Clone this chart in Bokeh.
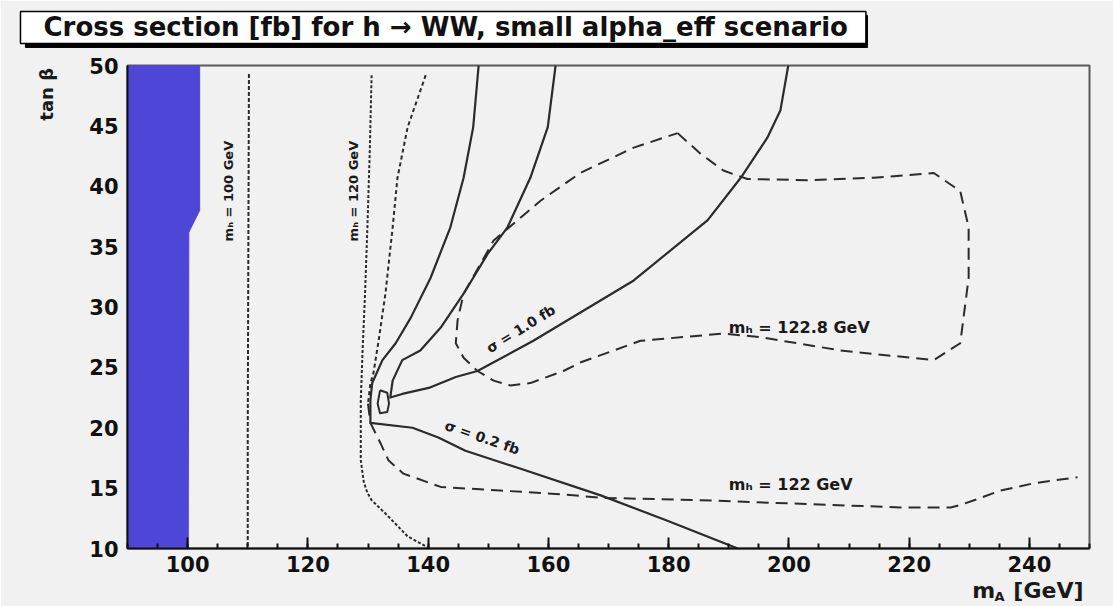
import math
from bokeh.plotting import figure
from bokeh.models import Label, SingleIntervalTicker, Range1d
from bokeh.embed import file_html
from bokeh.resources import INLINE

# ---------------- data (m_A [GeV], tan beta) ----------------
title_text = "Cross section [fb] for h \u2192 WW, small alpha_eff scenario"
x_range = (90, 250)
y_range = (10, 50)

# excluded (blue) region
excl_mA = [90.0, 90.0, 102.0, 102.0, 100.2, 100.1]
excl_tb = [10.0, 50.0, 50.0, 38.0, 36.2, 10.0]

# m_h = 100 GeV contour
mA_mh100 = [110.2, 110.1, 110.0, 110.0]
tb_mh100 = [49.3, 35.0, 20.0, 10.0]

# m_h = 120 GeV contour
mA_mh120 = [130.6, 130.3, 129.9, 129.5, 129.1, 128.8, 128.8, 129.3, 129.9, 130.6, 133.1, 136.6, 140.3]
tb_mh120 = [49.2, 43.0, 36.6, 31.0, 26.4, 22.3, 17.3, 15.5, 14.6, 14.0, 12.8, 11.0, 10.0]

# m_h = 122 GeV contour (upper and lower branch)
mA_mh122_up = [139.6, 136.6, 134.9, 134.1, 132.9, 131.7, 130.9, 130.4, 130.0]
tb_mh122_up = [49.2, 44.9, 40.7, 36.6, 31.1, 27.0, 24.5, 23.7, 22.0]
mA_mh122_low = [130.0, 130.4, 132.1, 133.4, 135.9, 142.1, 152.0, 162.0, 168.7, 185.3, 201.9,
                218.6, 226.9, 228.5, 231.4, 235.2, 240.7, 248.0]
tb_mh122_low = [22.0, 20.4, 18.7, 17.3, 16.2, 15.1, 14.8, 14.5, 14.2, 14.0, 13.7,
                13.4, 13.4, 13.6, 14.1, 14.8, 15.4, 15.9]

# m_h = 122.8 GeV contour (closed)
mA_mh1228 = [181.5, 185.3, 189.1, 193.1, 203.1, 214.1, 224.1, 228.5, 229.9, 229.9, 228.5, 224.1,
             208.6, 195.3, 189.1, 175.3, 165.3, 162.5, 157.0, 153.7, 150.9, 148.2, 145.9, 144.6,
             144.9, 145.9, 150.9, 158.7, 165.3, 174.2, 181.5]
tb_mh1228 = [44.4, 42.7, 41.3, 40.6, 40.5, 40.7, 41.1, 39.6, 36.6, 32.4, 27.0, 25.6,
             26.4, 27.5, 27.8, 27.2, 25.4, 24.7, 23.7, 23.5, 23.9, 24.7, 25.8, 27.0,
             28.9, 31.1, 35.5, 38.8, 41.1, 43.2, 44.4]

# sigma = 0.2 fb contour
mA_s02 = [148.4, 147.5, 145.9, 143.7, 140.4, 137.1, 134.6, 132.4, 130.7, 130.4, 130.4,
          137.4, 141.7, 146.2, 155.4, 168.7, 179.8, 191.5]
tb_s02 = [50.0, 44.9, 40.7, 36.6, 32.4, 29.1, 27.0, 25.6, 23.7, 22.3, 20.4,
          20.0, 19.2, 18.1, 16.6, 14.4, 12.3, 10.0]

# sigma = 1.0 fb contour
mA_s10 = [161.2, 159.9, 157.0, 153.2, 149.9, 145.9, 142.1, 138.7, 135.7, 134.1, 133.7,
          135.7, 140.1, 144.6, 148.2, 157.5, 174.2, 186.5, 192.0, 196.4, 198.6, 199.9]
tb_s10 = [50.0, 44.9, 40.7, 36.6, 34.4, 31.1, 28.3, 26.4, 25.6, 23.9, 22.5,
          22.8, 23.3, 24.2, 24.7, 27.2, 32.2, 37.2, 40.7, 44.0, 46.3, 50.0]

# small closed contour near the knot
mA_loop = [132.0, 133.2, 133.5, 133.2, 132.0, 131.6, 132.0]
tb_loop = [23.1, 22.9, 22.0, 21.3, 21.2, 22.0, 23.1]

LINE = "#2b2b2b"
BG = "#f1f1f1"
FONT = "DejaVu Sans"

p = figure(width=1113, height=606, x_range=Range1d(*x_range), y_range=Range1d(*y_range),
           output_backend="svg", toolbar_location=None,
           min_border_left=127, min_border_right=24, min_border_top=65, min_border_bottom=58)
p.title.visible = False
p.background_fill_color = BG
p.border_fill_color = BG
p.outline_line_color = "#5a5a5a"
p.outline_line_width = 2
p.xgrid.visible = False
p.ygrid.visible = False

# axes
p.xaxis.ticker = SingleIntervalTicker(interval=20, num_minor_ticks=4)
p.yaxis.ticker = SingleIntervalTicker(interval=5, num_minor_ticks=0)
for ax in (p.xaxis, p.yaxis):
    ax.major_label_text_font = FONT
    ax.major_label_text_font_style = "bold"
    ax.major_label_text_font_size = "21px"
    ax.major_label_text_color = "#111111"
    ax.axis_line_color = "#111111"
    ax.axis_line_width = 2
    ax.major_tick_out = 0
    ax.minor_tick_out = 0
    ax.major_tick_line_color = "#111111"
    ax.minor_tick_line_color = "#111111"
    ax.major_tick_line_width = 2
    ax.minor_tick_line_width = 2
p.xaxis.major_tick_in = 11
p.xaxis.minor_tick_in = 5
p.xaxis.major_label_standoff = 7
p.yaxis.major_tick_in = 0
p.yaxis.minor_tick_in = 0
p.yaxis.major_label_standoff = 9

# excluded region
p.patch(excl_mA, excl_tb, fill_color="#4e46d6", line_color="#4e46d6", line_width=1)

# contours
p.line(mA_mh100, tb_mh100, line_color=LINE, line_width=2, line_dash="4 2")
p.line(mA_mh120, tb_mh120, line_color=LINE, line_width=2, line_dash="3 2", line_join="round")
p.line(mA_mh122_up, tb_mh122_up, line_color=LINE, line_width=2, line_dash="4 3", line_join="round")
p.line(mA_mh122_low, tb_mh122_low, line_color=LINE, line_width=2, line_dash="12 7", line_join="round")
p.line(mA_mh1228, tb_mh1228, line_color=LINE, line_width=2, line_dash="12 7", line_join="round")
p.line(mA_s02, tb_s02, line_color=LINE, line_width=2.2, line_join="round")
p.line(mA_s10, tb_s10, line_color=LINE, line_width=2.2, line_join="round")
p.line(mA_loop, tb_loop, line_color=LINE, line_width=2, line_join="round")


def mk(x, y, text, size, angle=0.0, align="center", baseline="middle", style="bold", color="#1a1a1a", **kw):
    return Label(x=x, y=y, text=text, angle=angle, text_align=align, text_baseline=baseline,
                 text_font=FONT, text_font_size=size, text_font_style=style, text_color=color, **kw)


# contour labels (inside the frame)
p.add_layout(mk(106.8, 39.6, "m\u2095 = 100 GeV", "13px", angle=math.pi / 2))
p.add_layout(mk(127.6, 39.6, "m\u2095 = 120 GeV", "13px", angle=math.pi / 2))
p.add_layout(mk(155.4, 28.2, "\u03c3 = 1.0 fb", "14px", angle=0.555))
p.add_layout(mk(149.0, 19.2, "\u03c3 = 0.2 fb", "14px", angle=-0.33))
p.add_layout(mk(190.0, 28.3, "m\u2095 = 122.8 GeV", "16px", align="left"))
p.add_layout(mk(190.0, 15.3, "m\u2095 = 122 GeV", "16px", align="left"))

# axis titles (placed in side panels so they are not clipped by the frame)
p.add_layout(mk(76.5, 49.8, "tan \u03b2", "18px", angle=math.pi / 2, align="right"), "left")
p.add_layout(mk(230.5, 6.5, "m", "22px", align="left", baseline="alphabetic"), "left")
p.add_layout(mk(234.2, 6.0, "A", "13px", align="left", baseline="alphabetic"), "left")
p.add_layout(mk(249.0, 6.5, "[GeV]", "22px", align="right", baseline="alphabetic"), "below")

# title box with its shadow
p.add_layout(mk(73.03, 52.82, " ", "26px", align="left", color="black",
                background_fill_color="black", border_line_color="black",
                padding=(416, 417, 1, 1)), "above")
p.add_layout(mk(72.2, 53.15, title_text, "26px", align="left", color="#111111",
                background_fill_color="white", border_line_color="black", border_line_width=1.5,
                padding=(23, 18, 1, 1)), "above")

open("out.html", "w").write(file_html(p, INLINE))
